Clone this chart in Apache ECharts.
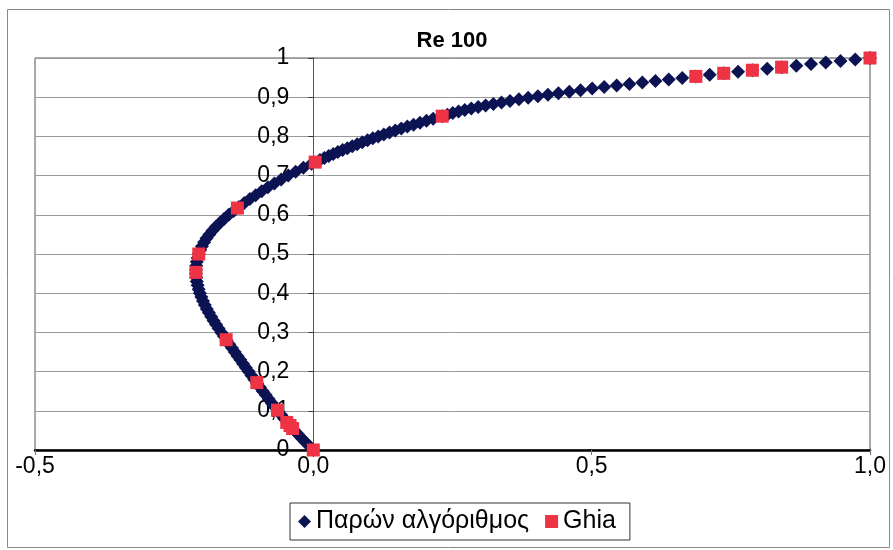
<!DOCTYPE html>
<html>
<head>
<meta charset="utf-8">
<script src="https://cdn.jsdelivr.net/npm/echarts@6/dist/echarts.min.js"></script>
<style>
html,body{margin:0;padding:0;background:#fff;}
#chart{width:893px;height:550px;}
</style>
</head>
<body>
<div id="chart"></div>
<script>
// Computed solution ("Παρών αλγόριθμος"): y positions and u velocities
var compY = [0.00,0.01,0.02,0.03,0.04,0.05,0.06,0.07,0.08,0.09,
  0.10,0.11,0.12,0.13,0.14,0.15,0.16,0.17,0.18,0.19,
  0.20,0.21,0.22,0.23,0.24,0.25,0.26,0.27,0.28,0.29,
  0.30,0.31,0.32,0.33,0.34,0.35,0.36,0.37,0.38,0.39,
  0.40,0.41,0.42,0.43,0.44,0.45,0.46,0.47,0.48,0.49,
  0.50,0.51,0.52,0.53,0.54,0.55,0.56,0.57,0.58,0.59,
  0.60,0.61,0.62,0.63,0.64,0.65,0.66,0.67,0.68,0.69,
  0.70,0.71,0.72,0.73,0.74,0.745,0.75,0.755,0.76,0.765,
  0.77,0.775,0.78,0.785,0.79,0.795,0.80,0.805,0.81,0.815,
  0.82,0.825,0.83,0.835,0.84,0.845,
  0.8516,0.8555,0.8594,0.8633,0.8672,0.8711,0.8750,0.8789,0.8828,0.8867,
  0.8906,0.8945,0.8984,0.9023,0.9063,0.9102,0.9141,0.9180,0.9219,0.9258,
  0.9297,0.9336,0.9375,0.9414,0.9453,0.9492,0.9531,0.9570,0.9609,0.9648,
  0.9688,0.9727,0.9766,0.9805,0.9844,0.9883,0.9922,0.9961,1.0000];
var compU = [0,-0.0072,-0.0142,-0.0210,-0.0276,-0.0340,-0.0403,-0.0464,-0.0523,-0.0581,
  -0.0638,-0.0694,-0.0748,-0.0802,-0.0855,-0.0907,-0.0959,-0.1010,-0.1061,-0.1112,
  -0.1162,-0.1212,-0.1262,-0.1312,-0.1362,-0.1412,-0.1461,-0.1510,-0.1559,-0.1606,
  -0.1654,-0.1701,-0.1747,-0.1791,-0.1834,-0.1875,-0.1913,-0.1949,-0.1982,-0.2011,
  -0.2038,-0.2060,-0.2079,-0.2093,-0.2103,-0.2108,-0.2108,-0.2103,-0.2093,-0.2078,
  -0.2058,-0.2033,-0.2001,-0.1962,-0.1918,-0.1867,-0.1810,-0.1746,-0.1676,-0.1600,
  -0.1519,-0.1431,-0.1337,-0.1240,-0.1140,-0.1036,-0.0928,-0.0816,-0.0700,-0.0578,
  -0.0451,-0.0318,-0.0179,-0.0033,0.0119,0.0198,0.0277,0.0358,0.0440,0.0525,
  0.0611,0.0699,0.0788,0.0880,0.0974,0.1069,0.1166,0.1266,0.1368,0.1473,
  0.1580,0.1689,0.1801,0.1916,0.2033,0.2153,
  0.2318,0.2408,0.2505,0.2609,0.2720,0.2838,0.2963,0.3095,0.3234,0.3380,
  0.3533,0.3693,0.3860,0.4034,0.4215,0.4403,0.4598,0.4800,0.5009,0.5225,
  0.5450,0.5678,0.5910,0.6146,0.6385,0.6627,0.6872,0.7120,0.7372,0.7630,
  0.7887,0.8153,0.8412,0.8676,0.8940,0.9205,0.9470,0.9735,1.0000];

// Ghia et al. reference points
var ghiaY = [1.0000,0.9766,0.9688,0.9609,0.9531,0.8516,0.7344,0.6172,0.5000,0.4531,0.2813,0.1719,0.1016,0.0703,0.0625,0.0547,0.0000];
var ghiaU = [1.00000,0.84123,0.78871,0.73722,0.68717,0.23151,0.00332,-0.13641,-0.20581,-0.21090,-0.15662,-0.10150,-0.06434,-0.04775,-0.04192,-0.03717,0.00000];

var seriesNames = ['Παρών αλγόριθμος', 'Ghia'];
var titleText = 'Re 100';

var compData = compY.map(function (y, i) { return [compU[i], y]; });
var ghiaData = ghiaY.map(function (y, i) { return [ghiaU[i], y]; });

var FONT = "'Liberation Sans', Arial, sans-serif";
var GRID_L = 35, GRID_R = 870, XMIN = -0.5, XMAX = 1.0;
// pixel distance from the grid's left edge to x = 0, so the y axis sits on x = 0
var yAxisShift = (GRID_R - GRID_L) * (0 - XMIN) / (XMAX - XMIN);

var chart = echarts.init(document.getElementById('chart'), null, {renderer: 'canvas'});
chart.setOption({
  animation: false,
  backgroundColor: '#ffffff',
  textStyle: {fontFamily: FONT},
  title: {
    text: titleText, left: 452, top: 30, textAlign: 'center', padding: 0,
    textStyle: {fontFamily: FONT, fontSize: 22, fontWeight: 'bold', color: '#000'}
  },
  graphic: [{
    type: 'rect', z: -10, silent: true,
    shape: {x: 7.5, y: 9.5, width: 882, height: 538},
    style: {fill: 'none', stroke: '#888', lineWidth: 1}
  }],
  grid: {
    left: GRID_L, top: 58, right: 893 - GRID_R, bottom: 100, containLabel: false,
    outerBoundsMode: 'none',
    show: true, backgroundColor: '#fff', borderColor: '#555', borderWidth: 1
  },
  legend: {
    data: [{name: seriesNames[0], icon: 'diamond'}, {name: seriesNames[1], icon: 'rect'}],
    left: 290, top: 503, orient: 'horizontal',
    padding: [6, 14, 6, 8], itemGap: 16, itemWidth: 13, itemHeight: 13,
    borderColor: '#333', borderWidth: 1, backgroundColor: '#fff',
    textStyle: {fontFamily: FONT, fontSize: 25, color: '#000'}
  },
  xAxis: {
    type: 'value', min: XMIN, max: XMAX, interval: 0.5,
    axisLine: {onZero: false, lineStyle: {color: '#000', width: 2.5}},
    axisTick: {show: true, length: 5, lineStyle: {color: '#777'}},
    splitLine: {show: false},
    axisLabel: {
      margin: 5, fontFamily: FONT, fontSize: 23, color: '#000',
      formatter: function (v) { return v.toFixed(1).replace('.', ','); }
    }
  },
  yAxis: {
    type: 'value', min: 0, max: 1, interval: 0.1,
    position: 'left', offset: -yAxisShift,
    axisLine: {onZero: false, lineStyle: {color: '#555', width: 1}},
    axisTick: {show: true, length: 5, lineStyle: {color: '#333'}},
    splitLine: {show: true, lineStyle: {color: '#9a9a9a', width: 1}},
    axisLabel: {
      margin: 24, fontFamily: FONT, fontSize: 23, color: '#000',
      formatter: function (v) {
        var r = Math.round(v * 10) / 10;
        if (r === 0) return '0';
        if (r === 1) return '1';
        return r.toFixed(1).replace('.', ',');
      }
    }
  },
  series: [{
    name: seriesNames[0], type: 'scatter', data: compData,
    symbol: 'diamond', symbolSize: [14, 14], z: 3,
    itemStyle: {color: '#0c1352', opacity: 1}
  }, {
    name: seriesNames[1], type: 'scatter', data: ghiaData,
    symbol: 'rect', symbolSize: 13, z: 4,
    itemStyle: {color: '#ee3344', opacity: 1}
  }]
});
</script>
</body>
</html>
